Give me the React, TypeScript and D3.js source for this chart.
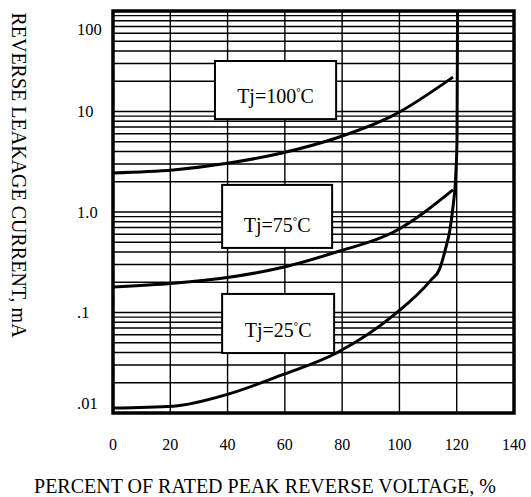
import { useEffect, useRef } from "react"
import * as d3 from "d3"

// percent of rated peak reverse voltage (x) vs reverse leakage current in mA (y)
const pct100 = [0, 21, 40.5, 59, 78, 98, 118.7]
const cur100 = [2.45, 2.62, 3.07, 3.87, 5.45, 9.2, 22]

const pct75 = [0, 21, 40.5, 59, 78, 98, 118.7]
const cur75 = [0.179, 0.195, 0.224, 0.28, 0.4, 0.632, 1.66]

const pct25 = [0, 21, 40.5, 59, 78, 98, 111, 114, 116, 117.6, 118.7, 119.7, 120.1, 120.3]
const cur25 = [0.0112, 0.0117, 0.0155, 0.0239, 0.0395, 0.094, 0.21, 0.27, 0.42, 0.66, 1.12, 2.44, 5.2, 100]

const seriesTemps = ["100", "75", "25"]

const xTicks = [0, 20, 40, 60, 80, 100, 120, 140]
const yTicks = [100, 10, 1, 0.1, 0.01]
const yTickLabels = ["100", "10", "1.0", ".1", ".01"]

const xTitle = "PERCENT OF RATED PEAK REVERSE VOLTAGE, %"
const yTitle = "REVERSE LEAKAGE CURRENT, mA"

export default function App() {
  const svgRef = useRef<SVGSVGElement>(null)

  useEffect(() => {
    if (!svgRef.current) return
    d3.select(svgRef.current).selectAll("*").remove()

    const W = 531
    const H = 497
    const margin = { top: 11, right: 17, bottom: 84, left: 113 }
    const font = "'Liberation Serif', 'Times New Roman', serif"

    const svg = d3.select(svgRef.current).attr("width", W).attr("height", H)

    const x = d3
      .scaleLinear()
      .domain([0, 140])
      .range([margin.left, W - margin.right])
    const y = d3
      .scaleLog()
      .domain([0.01, 100])
      .range([H - margin.bottom, margin.top])

    const [x0, x1] = x.range()
    const [yb, yt] = y.range()

    // log grid: 1..9 in every decade
    const gridVals: number[] = []
    for (let k = -2; k <= 1; k++) {
      for (let m = 1; m <= 9; m++) gridVals.push(m * Math.pow(10, k))
    }
    gridVals.push(100)

    const grid = svg.append("g").attr("stroke", "#000").attr("stroke-width", 1.4)
    grid
      .selectAll(".hgrid")
      .data(gridVals)
      .enter()
      .append("line")
      .attr("x1", x0)
      .attr("x2", x1)
      .attr("y1", (d) => y(d))
      .attr("y2", (d) => y(d))

    grid
      .selectAll(".vgrid")
      .data(xTicks.slice(1, -1))
      .enter()
      .append("line")
      .attr("x1", (d) => x(d))
      .attr("x2", (d) => x(d))
      .attr("y1", yb)
      .attr("y2", yt)

    // frame
    svg
      .append("rect")
      .attr("x", x0)
      .attr("y", yt)
      .attr("width", x1 - x0)
      .attr("height", yb - yt)
      .attr("fill", "none")
      .attr("stroke", "#000")
      .attr("stroke-width", 3.5)

    // label boxes, placed in data units
    const boxes = [
      { x: [35.6, 77.9], v: [31.8, 8.4] },
      { x: [38.1, 76.5], v: [1.86, 0.439] },
      { x: [38.1, 77.2], v: [0.153, 0.0395] },
    ]
    boxes.forEach((b, i) => {
      const bx = x(b.x[0])
      const bw = x(b.x[1]) - bx
      const by = y(b.v[0])
      const bh = y(b.v[1]) - by
      svg
        .append("rect")
        .attr("x", bx)
        .attr("y", by)
        .attr("width", bw)
        .attr("height", bh)
        .attr("fill", "#fff")
        .attr("stroke", "#000")
        .attr("stroke-width", 2)
      const t = svg
        .append("text")
        .attr("x", bx + bw / 2)
        .attr("y", by + bh - 16)
        .attr("text-anchor", "middle")
        .attr("font-family", font)
        .attr("font-size", 20)
        .attr("fill", "#000")
      t.append("tspan").text(`Tj=${seriesTemps[i]}`)
      t.append("tspan").attr("font-size", 11).attr("font-weight", "bold").attr("dy", -7).text("°")
      t.append("tspan").attr("dy", 7).text("C")
    })

    // curves
    const line = d3
      .line<[number, number]>()
      .x((d) => x(d[0]))
      .y((d) => y(d[1]))
      .curve(d3.curveMonotoneX)

    const series: [number, number][][] = [
      pct100.map((p, i) => [p, cur100[i]]),
      pct75.map((p, i) => [p, cur75[i]]),
      pct25.map((p, i) => [p, cur25[i]]),
    ]
    svg
      .selectAll(".curve")
      .data(series)
      .enter()
      .append("path")
      .attr("fill", "none")
      .attr("stroke", "#000")
      .attr("stroke-width", 3)
      .attr("stroke-linejoin", "round")
      .attr("d", (d) => line(d))

    // y tick labels, kept inside the frame's height
    svg
      .selectAll(".ylab")
      .data(yTicks)
      .enter()
      .append("text")
      .attr("x", 77)
      .attr("y", (d) => Math.min(Math.max(y(d), yt + 18), yb - 10))
      .attr("dy", "0.35em")
      .attr("font-family", font)
      .attr("font-size", 16.5)
      .attr("fill", "#000")
      .text((_, i) => yTickLabels[i])

    // x tick labels
    svg
      .selectAll(".xlab")
      .data(xTicks)
      .enter()
      .append("text")
      .attr("x", (d) => x(d))
      .attr("y", yb + 37)
      .attr("text-anchor", "middle")
      .attr("font-family", font)
      .attr("font-size", 16)
      .attr("fill", "#000")
      .text((d) => String(d))

    // axis titles
    svg
      .append("text")
      .attr("x", 265)
      .attr("y", 493)
      .attr("text-anchor", "middle")
      .attr("font-family", font)
      .attr("font-size", 20)
      .attr("fill", "#000")
      .text(xTitle)

    svg
      .append("text")
      .attr("transform", "translate(12,175) rotate(90)")
      .attr("text-anchor", "middle")
      .attr("font-family", font)
      .attr("font-size", 20)
      .attr("fill", "#000")
      .text(yTitle)
  }, [])

  return (
    <svg
      ref={svgRef}
      style={{ position: "absolute", left: 0, top: 0, background: "#fff" }}
    ></svg>
  )
}
